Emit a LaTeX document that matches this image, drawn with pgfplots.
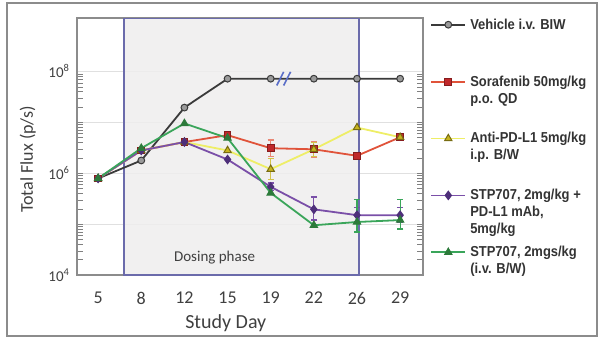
\documentclass[border=0pt]{standalone}
\usepackage{fontspec}
\setmainfont{Carlito}
\newfontfamily\legfont[FakeStretch=0.9]{Liberation Sans}
\usepackage{pgfplots}
\pgfplotsset{compat=1.18}
\definecolor{vehline}{HTML}{3A3A3A}
\definecolor{vehmark}{HTML}{9A9A9A}
\definecolor{redline}{HTML}{E0533A}
\definecolor{redmark}{HTML}{C0282A}
\definecolor{yelline}{HTML}{EEEE66}
\definecolor{yelmark}{HTML}{C8B41E}
\definecolor{purline}{HTML}{7A4FA8}
\definecolor{purmark}{HTML}{4E2F7A}
\definecolor{grnline}{HTML}{3AA55A}
\definecolor{grnmark}{HTML}{2C7A3A}
\definecolor{boxfill}{HTML}{EFEDED}
\definecolor{boxdraw}{HTML}{6B6BAB}
\definecolor{framegray}{HTML}{8C8C8C}
\definecolor{breakblue}{HTML}{5A6EC8}
\newcommand{\leg}[1]{\raisebox{0pt}[\height][0pt]{\begin{tabular}[t]{@{}l@{}}#1\end{tabular}}}
\begin{document}
\begin{tikzpicture}[x=1pt,y=1pt]
\useasboundingbox (-38.5,-32) rectangle (261.5,137.5);
\draw[framegray, line width=1pt] (-35,-30.5) rectangle (260,136);
\begin{axis}[
  at={(0,0)}, anchor=south west,
  scale only axis, width=173pt, height=128.5pt,
  xmin=-0.49, xmax=7.53,
  ymode=log, ymin=1e4, ymax=1.122e9,
  xtick={0,1,2,3,4,5,6,7},
  xticklabels={5,8,12,15,19,22,26,29},
  ytick={1e4,1e5,1e6,1e7,1e8},
  yticklabels={10\textsuperscript{4},,10\textsuperscript{6},,10\textsuperscript{8}},
  major tick length=0pt,
  ymajorgrids,
  grid style={black!12, line width=0.6pt},
  axis line style={framegray, line width=1pt},
  tick label style={text=black!75},
  xticklabel style={font=\fontsize{9}{10}\selectfont, yshift=-5pt},
  yticklabel style={font=\fontsize{7.5}{8}\selectfont},
  xlabel={Study Day},
  ylabel={Total Flux (p/s)},
  x label style={at={(axis description cs:0.43,0)}, anchor=center, yshift=-24pt, font=\fontsize{10}{12}\selectfont, text=black!75},
  y label style={at={(axis description cs:-0.142,0.45)}, anchor=center, font=\fontsize{9}{11}\selectfont, text=black!75},
  legend style={at={(axis description cs:1.02,1.02)}, anchor=north west, draw=none, fill=none,
    font=\legfont\bfseries\fontsize{7.2}{8.5}\selectfont, row sep=17pt, inner sep=0pt,
    nodes={text=black!80}},
  legend cell align=left,
  error bars/y dir=both, error bars/y explicit,
  error bars/error bar style={line width=0.6pt},
  error bars/error mark options={rotate=90, mark size=1.6pt, line width=0.6pt},
]
\fill[boxfill, fill opacity=0.85] (axis cs:0.6,1e4) rectangle (axis cs:6.04,1.122e9);
\draw[boxdraw, line width=1pt] (axis cs:0.6,1e4) rectangle (axis cs:6.04,1.122e9);
\node[font=\fontsize{7.5}{9}\selectfont, text=black!75] at (axis cs:2.7,2.24e4) {Dosing phase};

\addplot[vehline, line width=0.9pt, mark=*, mark size=1.7pt, mark options={fill=vehmark, draw=vehline, line width=0.5pt}]
 coordinates {(0,7.9e5) (1,1.78e6) (2,1.95e7) (3,7.2e7) (4,7.2e7) (5,7.2e7) (6,7.2e7) (7,7.2e7)};
\addlegendentry{\leg{Vehicle i.v. BIW}}

\addplot[redline, line width=0.9pt, mark=square*, mark size=1.7pt, mark options={fill=redmark, draw=redmark!70!black, line width=0.5pt},
  error bars/error bar style={redline!70, line width=0.6pt}]
 coordinates {(0,7.9e5) (1,2.8e6) (2,4.1e6) (3,5.6e6) (4,3.1e6) += (0,1.4e6) -= (0,1.0e6) (5,2.95e6) += (0,1.3e6) -= (0,0.9e6) (6,2.2e6) (7,5.1e6)};
\addlegendentry{\leg{Sorafenib 50mg/kg\\p.o. QD}}

\addplot[yelline, line width=0.9pt, mark=triangle*, mark size=2.1pt, mark options={fill=yelmark, draw=yelmark!60!black, line width=0.5pt},
  error bars/error bar style={yelmark!80, line width=0.6pt}]
 coordinates {(0,7.9e5) (1,2.8e6) (2,4.1e6) (3,2.8e6) (4,1.2e6) += (0,0.75e6) -= (0,0.45e6) (5,2.95e6) += (0,1.1e6) -= (0,0.8e6) (6,7.9e6) (7,5.1e6)};
\addlegendentry{\leg{Anti-PD-L1 5mg/kg\\i.p. B/W}}

\addplot[purline, line width=0.9pt, mark=diamond*, mark size=2.1pt, mark options={fill=purmark, draw=purmark, line width=0.5pt},
  error bars/error bar style={purline, line width=0.6pt}]
 coordinates {(0,7.9e5) (1,2.8e6) (2,4.1e6) (3,1.86e6) (4,5.4e5) += (0,1.0e5) -= (0,0.8e5) (5,1.95e5) += (0,1.45e5) -= (0,0.75e5) (6,1.5e5) += (0,0.6e5) -= (0,0.4e5) (7,1.5e5) += (0,0.6e5) -= (0,0.4e5)};
\addlegendentry{\leg{STP707, 2mg/kg +\\PD-L1 mAb,\\5mg/kg}}

\addplot[grnline, line width=0.9pt, mark=triangle*, mark size=2.1pt, mark options={fill=grnmark, draw=grnmark, line width=0.5pt},
  error bars/error bar style={grnline, line width=0.6pt}]
 coordinates {(0,7.9e5) (1,3.1e6) (2,9.5e6) (3,4.9e6) (4,4.1e5) (5,9.5e4) (6,1.1e5) += (0,2.0e5) -= (0,0.4e5) (7,1.2e5) += (0,1.9e5) -= (0,0.4e5)};
\addlegendentry{\leg{STP707, 2mgs/kg\\(i.v. B/W)}}

\draw[breakblue, line width=0.8pt] (axis cs:4.14,5.3e7) -- (axis cs:4.30,9.8e7);
\draw[breakblue, line width=0.8pt] (axis cs:4.30,5.3e7) -- (axis cs:4.46,9.8e7);
\end{axis}
\end{tikzpicture}
\end{document}
